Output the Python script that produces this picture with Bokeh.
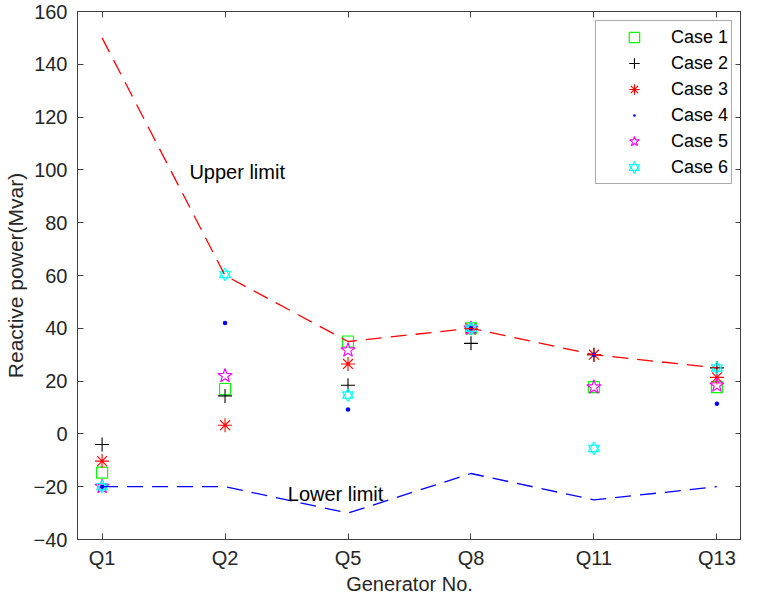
from bokeh.plotting import figure
from bokeh.models import (Range1d, FixedTicker, LinearAxis, Legend, LegendItem, ColumnDataSource)
from bokeh.core.properties import value
from bokeh.embed import file_html
from bokeh.resources import INLINE

gens = ["Q1", "Q2", "Q5", "Q8", "Q11", "Q13"]
upper = [150, 60, 35, 40, 30, 25]
lower = [-20, -20, -30, -15, -25, -20]
case1 = [-14.7, 17, 35, 40, 17.7, 17.7]
case2 = [-4, 14.4, 18.4, 34.3, 30, 25]
case3 = [-10.3, 3.3, 26.5, 40, 30, 21.4]
case4 = [-20, 42, 9.2, 40, 30, 11.4]
case5 = [-20, 22, 31.7, 40, 17.7, 18.4]
case6 = [-20, 60.4, 14.7, 40, -5.5, 25]
y_ticks = [-40, -20, 0, 20, 40, 60, 80, 100, 120, 140, 160]

xs = list(range(len(gens)))
FONT = "Liberation Sans"
AX = "#404040"
TXT = "#262626"

p = figure(width=741, height=597, output_backend="svg", toolbar_location=None,
           x_range=Range1d(-0.2, 5.2), y_range=Range1d(-40, 160),
           min_border_left=66, min_border_right=0, min_border_top=11, min_border_bottom=0)
p.grid.visible = False
p.background_fill_color = "white"
p.outline_line_color = AX
p.outline_line_width = 1

def style(ax):
    ax.axis_line_color = AX
    ax.major_tick_line_color = AX
    ax.major_tick_in = 6
    ax.major_tick_out = 0
    ax.minor_tick_line_color = None
    ax.major_label_text_font = FONT
    ax.major_label_text_color = TXT
    ax.major_label_text_font_size = "20px"

p.xaxis.ticker = FixedTicker(ticks=xs)
p.xaxis.major_label_overrides = {i: g for i, g in zip(xs, gens)}
p.yaxis.ticker = FixedTicker(ticks=y_ticks)
style(p.xaxis[0])
style(p.yaxis[0])
p.xaxis.major_label_standoff = 7
p.yaxis.major_label_standoff = 10
p.xaxis.axis_label = "Generator No."
p.yaxis.axis_label = "Reactive power(Mvar)"
for ax in (p.xaxis[0], p.yaxis[0]):
    ax.axis_label_text_font = FONT
    ax.axis_label_text_font_size = "20px"
    ax.axis_label_text_font_style = "normal"
    ax.axis_label_text_color = TXT
p.yaxis.axis_label_text_font_size = "21px"
p.xaxis.axis_label_standoff = 1
p.yaxis.axis_label_standoff = 4

top = LinearAxis(ticker=FixedTicker(ticks=xs))
style(top)
top.major_label_overrides = {i: "" for i in xs}
top.major_label_standoff = 0
top.major_label_text_font_size = "1px"
right = LinearAxis(ticker=FixedTicker(ticks=y_ticks))
style(right)
right.major_label_overrides = {t: "" for t in y_ticks}
right.major_label_standoff = 0
right.major_label_text_font_size = "1px"
p.add_layout(top, "above")
p.add_layout(right, "right")

src = ColumnDataSource(dict(x=xs, upper=upper, lower=lower, c1=case1, c2=case2,
                            c3=case3, c4=case4, c5=case5, c6=case6))

r1 = p.scatter("x", "c1", source=src, marker="square", size=11, fill_color=None,
               line_color="#00ff00", line_width=1.2)
r2 = p.scatter("x", "c2", source=src, marker="cross", size=14, line_color="#000000", line_width=1.1)
r3 = p.scatter("x", "c3", source=src, marker="asterisk", size=14, line_color="#ff0000", line_width=1.1)
r4 = p.scatter("x", "c4", source=src, marker="dot", size=18, fill_color="#0000ff",
               line_color="#0000ff", line_width=3)
r5 = p.scatter("x", "c5", source=src, marker="star", size=15, fill_color=None,
               line_color="#ff00ff", line_width=1.1)
r6a = p.scatter("x", "c6", source=src, marker="triangle", size=11, fill_color=None,
                line_color="#00ffff", line_width=1.1)
r6b = p.scatter("x", "c6", source=src, marker="inverted_triangle", size=11, fill_color=None,
                line_color="#00ffff", line_width=1.1)

p.line("x", "upper", source=src, line_color="#ff0000", line_width=1.3, line_dash="16 9")
p.line("x", "lower", source=src, line_color="#0000ff", line_width=1.3, line_dash="16 9")

p.text(x=[0.71], y=[99.3], text=["Upper limit"], text_font=value(FONT), text_font_size="20px",
       text_color="#000000", text_align="left", text_baseline="middle")
p.text(x=[1.51], y=[-22.9], text=["Lower limit"], text_font=value(FONT), text_font_size="20px",
       text_color="#000000", text_align="left", text_baseline="middle")

legend = Legend(items=[
    LegendItem(label="Case 1", renderers=[r1]),
    LegendItem(label="Case 2", renderers=[r2]),
    LegendItem(label="Case 3", renderers=[r3]),
    LegendItem(label="Case 4", renderers=[r4]),
    LegendItem(label="Case 5", renderers=[r5]),
    LegendItem(label="Case 6", renderers=[r6a, r6b]),
], location="top_right")
legend.margin = 9
legend.padding = 3
legend.spacing = 0
legend.label_height = 26
legend.glyph_height = 26
legend.glyph_width = 70
legend.label_standoff = 2
legend.label_text_font = FONT
legend.label_text_font_size = "18px"
legend.label_text_color = "#000000"
legend.border_line_color = "#555555"
legend.border_line_width = 1
legend.background_fill_color = "white"
legend.background_fill_alpha = 1
p.add_layout(legend, "center")

open("out.html", "w").write(file_html(p, INLINE))
